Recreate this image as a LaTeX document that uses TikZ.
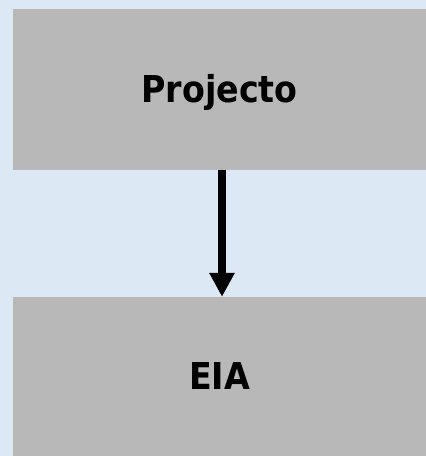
\documentclass[tikz,border=0pt]{standalone}
\usepackage{fontspec}
\usetikzlibrary{arrows.meta}
\newfontfamily\boxfont{DejaVu Sans Condensed}[BoldFont={* Bold}]
\definecolor{bgblue}{HTML}{DCE8F4}
\definecolor{boxgray}{HTML}{B8B8B8}
\begin{document}
\begin{tikzpicture}[x=1pt,y=-1pt,
  box/.style={rectangle, fill=boxgray, draw=none, inner sep=0pt,
    minimum width=413pt, font=\boxfont\bfseries\fontsize{37}{40}\selectfont},
  flow/.style={line width=8pt, -{Triangle[length=24pt,width=24pt]}}]
\fill[bgblue] (0,0) rectangle (426,456);
\useasboundingbox (0,0) rectangle (426,456);
\node[box, minimum height=161pt, text height=28pt, text depth=3pt] (proj) at (219.5,89.5) {Projecto};
\node[box, minimum height=159pt] (eia) at (219.5,376.5) {EIA};
\draw[flow] ([xshift=2.5pt]proj.south) -- ([xshift=2.5pt]eia.north);
\end{tikzpicture}
\end{document}
